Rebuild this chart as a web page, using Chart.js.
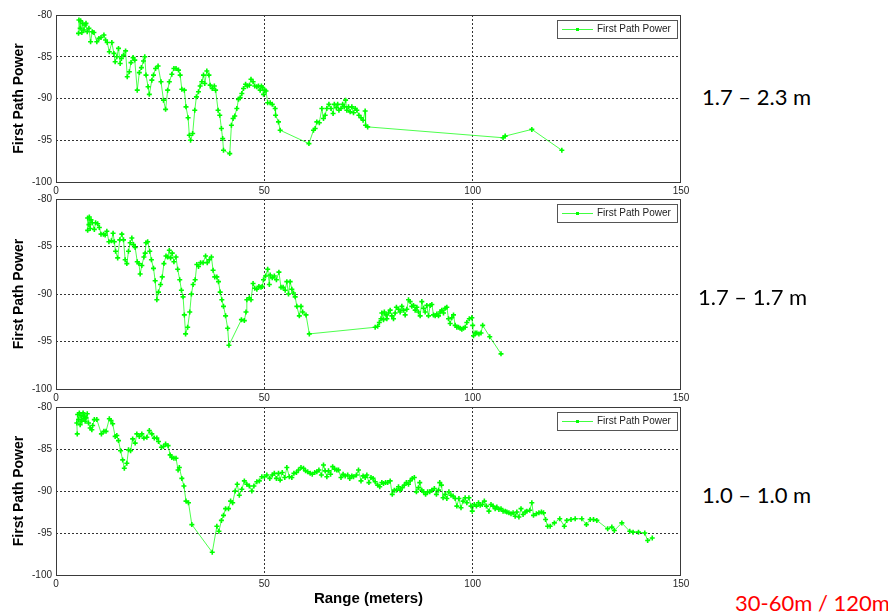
<!DOCTYPE html>
<html>
<head>
<meta charset="utf-8">
<script src="https://cdn.jsdelivr.net/npm/chart.js@4.4.1/dist/chart.umd.min.js"></script>
<style>
  body { margin: 0; background: #fff; width: 888px; height: 613px; overflow: hidden; position: relative; }
  canvas { position: absolute; left: 0; }
  .note { position: absolute; font-family: Lato, "Open Sans", sans-serif; font-size: 22px; color: #000; white-space: nowrap; line-height: 1; }
</style>
</head>
<body>
<canvas id="c1" width="700" height="200" style="top:0px"></canvas>
<canvas id="c2" width="700" height="223" style="top:184px"></canvas>
<canvas id="c3" width="700" height="221" style="top:392px"></canvas>
<div class="note" style="left:702px; top:86px">1.7 – 2.3 m</div>
<div class="note" style="left:698px; top:286px">1.7 – 1.7 m</div>
<div class="note" style="left:702px; top:484px">1.0 – 1.0 m</div>
<div class="note" style="left:735px; top:592px; color:#ff0000">30-60m / 120m</div>
<script>
// axis ticks
var rangeTicks = [0, 50, 100, 150];
var powerTicks = [-100, -95, -90, -85, -80];
var seriesName = 'First Path Power';

// 1.7 - 2.3 m
var range1 = [5.4,5.5,5.8,5.9,6.2,6.4,6.7,7.0,7.2,7.5,7.9,8.3,8.7,9.1,9.8,10.3,10.8,11.5,11.9,12.3,12.8,13.4,13.9,14.2,14.6,15.0,15.4,15.7,16.2,16.7,17.1,17.6,18.0,18.5,18.9,19.5,20.0,20.5,21.0,21.3,21.6,22.1,22.4,23.0,23.4,23.9,24.5,25.2,25.8,26.3,26.8,27.2,27.8,28.3,28.8,29.4,29.8,30.2,30.8,31.2,31.7,32.0,32.3,32.8,33.3,33.7,34.2,34.6,35.0,35.4,35.7,36.2,36.7,37.0,37.5,38.0,38.3,38.9,39.3,39.7,40.0,40.2,41.7,42.1,42.5,42.9,43.4,43.8,44.2,44.6,45.0,45.5,45.9,46.4,46.8,47.3,47.7,48.2,48.6,49.0,49.3,49.6,49.8,50.1,50.4,50.8,51.4,51.9,52.6,52.7,53.4,53.8,60.7,61.8,62.2,62.6,63.2,63.8,64.2,64.6,65.0,65.5,66.0,66.5,66.8,67.3,67.6,67.9,68.4,68.8,69.2,69.5,69.8,70.2,70.6,71.0,71.4,71.8,72.2,72.7,73.2,73.7,74.2,74.3,74.8,107.3,107.8,114.2,121.4];
var power1 = [-82.2,-80.6,-81.6,-80.7,-82.1,-81.0,-81.8,-81.2,-81.0,-82.0,-81.6,-83.2,-82.0,-82.1,-83.2,-82.8,-82.7,-82.4,-83.0,-83.3,-84.4,-83.3,-84.6,-85.6,-85.0,-84.0,-85.8,-85.2,-84.8,-84.3,-87.4,-86.8,-85.7,-85.1,-85.4,-89.0,-86.9,-86.3,-85.5,-85.0,-87.2,-88.6,-89.5,-87.8,-87.2,-86.4,-86.1,-88.0,-90.2,-91.3,-89.0,-88.0,-87.1,-86.4,-86.4,-86.6,-87.2,-88.9,-89.0,-91.0,-92.3,-94.4,-95.0,-94.2,-91.4,-89.8,-89.2,-88.5,-88.0,-87.2,-88.2,-86.7,-87.2,-88.4,-88.8,-88.5,-89.0,-91.4,-92.0,-93.6,-94.8,-96.2,-96.6,-93.2,-92.4,-92.1,-91.2,-90.1,-89.9,-89.4,-88.8,-88.3,-88.5,-88.4,-87.7,-88.0,-88.5,-88.6,-88.5,-89.0,-88.5,-88.7,-89.5,-89.0,-89.1,-90.5,-90.5,-90.7,-91.2,-92.0,-92.8,-93.8,-95.4,-93.8,-93.6,-92.8,-92.9,-91.2,-92.4,-92.0,-91.2,-90.7,-91.2,-91.8,-90.7,-91.1,-90.7,-91.4,-91.2,-90.7,-91.0,-90.2,-91.4,-91.0,-91.6,-91.0,-91.7,-91.2,-91.4,-92.0,-92.3,-92.6,-91.5,-93.2,-93.4,-94.7,-94.5,-93.7,-96.2];

// 1.7 - 1.7 m
var range2 = [7.6,7.6,7.9,8.0,8.2,8.4,8.7,9.2,9.5,10.0,10.4,10.8,11.4,11.8,12.2,12.7,13.3,13.7,14.0,14.3,14.8,15.3,15.8,16.2,16.6,17.0,17.4,17.8,18.2,18.6,19.0,19.5,19.9,20.2,20.6,21.1,21.4,21.6,22.0,22.5,22.9,23.4,23.8,24.2,24.6,25.1,25.5,25.9,26.4,26.8,27.2,27.5,27.9,28.3,28.8,29.2,29.7,30.1,30.5,30.8,31.1,31.6,32.1,32.5,32.9,33.4,33.8,34.2,34.7,35.3,35.9,36.3,36.8,37.3,37.7,38.1,38.6,39.0,39.4,39.8,40.2,40.7,41.2,41.5,44.5,45.2,45.6,45.8,46.4,46.8,47.3,47.7,48.2,48.7,49.2,49.5,49.8,50.3,50.8,51.2,51.4,51.9,52.4,52.9,53.5,54.0,54.5,55.0,55.4,55.8,56.2,56.6,57.0,57.4,57.8,58.4,58.8,59.2,60.0,60.8,76.6,77.2,77.6,78.0,78.2,78.6,78.8,79.2,79.4,79.8,80.2,80.6,81.0,81.4,81.7,82.2,82.6,83.0,83.4,83.8,84.2,84.6,85.0,85.4,85.8,86.2,86.6,87.0,87.4,87.8,88.2,88.6,89.0,89.4,89.8,90.2,90.6,91.0,91.4,91.8,92.2,92.6,93.0,93.4,93.8,94.2,94.6,95.0,95.4,95.8,96.2,96.6,97.0,97.4,97.8,98.2,98.6,99.2,99.8,100.0,100.2,100.6,101.0,101.5,102.0,102.4,104.1,106.8];
var power2 = [-83.3,-82.0,-82.7,-81.9,-83.1,-82.2,-82.5,-83.2,-82.5,-82.6,-83.0,-83.7,-83.7,-83.8,-83.4,-84.5,-84.4,-83.6,-84.5,-85.5,-86.2,-84.3,-83.7,-84.3,-86.4,-86.8,-85.5,-84.6,-84.1,-84.8,-85.1,-86.6,-86.8,-87.9,-87.0,-86.1,-85.7,-84.6,-84.5,-85.5,-86.4,-87.3,-88.6,-90.6,-89.8,-89.0,-88.2,-86.8,-86.0,-86.1,-85.4,-86.2,-85.7,-86.6,-86.1,-87.4,-88.5,-89.6,-90.3,-92.2,-94.2,-93.5,-91.9,-90.0,-89.0,-88.5,-86.9,-87.1,-86.7,-86.7,-86.0,-86.7,-86.4,-86.1,-87.5,-88.2,-88.2,-88.7,-89.8,-90.6,-91.3,-92.3,-93.6,-95.4,-92.7,-92.8,-91.9,-90.6,-90.4,-90.6,-88.9,-89.4,-89.5,-89.2,-89.3,-89.2,-88.5,-88.1,-87.4,-89.0,-88.0,-88.3,-88.1,-88.5,-87.7,-89.3,-89.3,-89.6,-88.7,-90.0,-88.7,-89.5,-89.9,-90.3,-91.3,-92.3,-91.3,-91.9,-92.2,-94.2,-93.5,-93.4,-93.0,-92.6,-92.0,-92.7,-91.9,-92.2,-92.6,-92.0,-91.7,-92.3,-92.6,-92.0,-91.4,-91.6,-91.9,-91.3,-91.7,-92.2,-91.6,-90.6,-90.8,-91.3,-91.2,-91.7,-91.4,-91.9,-92.3,-90.8,-91.5,-91.9,-91.2,-92.3,-91.2,-91.1,-92.2,-92.3,-92.1,-92.3,-91.9,-91.7,-92.0,-91.5,-91.4,-92.6,-93.1,-92.5,-92.2,-93.3,-93.5,-93.5,-93.6,-93.7,-93.6,-93.5,-93.0,-92.6,-92.5,-93.3,-94.4,-94.1,-94.1,-94.2,-94.1,-93.3,-94.5,-96.3];

// 1.0 - 1.0 m
var range3 = [5.1,5.0,5.2,5.4,5.6,5.8,6.0,6.2,6.5,6.7,6.9,7.0,7.2,7.5,7.8,8.2,8.6,8.8,9.2,9.8,10.9,11.5,12.0,12.8,13.2,13.6,14.2,14.6,15.0,15.5,16.0,16.4,17.0,17.4,17.9,18.4,19.0,19.4,20.0,20.6,21.1,21.8,22.4,23.0,23.6,24.2,24.6,25.3,25.8,26.3,26.9,27.4,27.8,28.3,28.8,29.3,29.6,30.2,30.7,31.2,31.8,32.6,37.5,38.6,39.1,39.7,40.2,40.7,41.4,41.9,42.4,43.0,43.5,44.0,44.6,45.2,45.8,46.4,47.0,47.5,48.2,48.8,49.4,50.0,50.6,51.3,51.9,52.4,52.9,53.4,53.8,54.3,54.9,55.4,56.0,56.6,57.1,57.7,58.2,58.8,59.4,59.9,60.4,61.0,61.5,62.1,62.6,63.1,63.7,64.2,64.6,65.0,65.4,65.9,66.4,66.9,67.4,67.8,68.4,68.9,69.4,70.0,70.5,71.0,71.4,72.1,72.6,73.2,73.7,74.2,74.6,75.1,75.6,76.1,76.6,77.2,77.7,78.2,78.6,79.1,79.6,80.2,80.7,81.2,81.7,82.2,82.6,83.1,83.6,84.1,84.6,85.0,85.5,86.0,86.5,87.0,87.3,87.8,88.2,88.7,89.2,89.7,90.2,90.8,91.3,91.8,92.1,92.5,92.9,93.4,93.8,94.3,94.8,95.3,95.8,96.2,96.7,97.2,97.7,98.2,98.6,99.1,99.6,99.9,100.4,100.9,101.4,101.8,102.3,102.8,103.3,103.9,104.4,104.9,105.4,105.8,106.3,106.8,107.3,107.8,108.2,108.7,109.2,109.7,110.2,110.6,111.1,111.6,112.1,112.6,113.0,113.7,114.2,114.6,115.3,115.9,116.5,117.0,117.5,118.0,118.6,119.6,120.9,122.0,122.6,123.6,124.6,126.2,127.3,128.2,129.0,129.8,132.4,133.4,134.0,135.8,137.7,138.5,139.8,141.3,142.0,143.1];
var power3 = [-83.2,-81.9,-80.9,-81.5,-80.7,-82.1,-81.0,-81.7,-80.7,-81.4,-81.1,-81.7,-81.3,-80.8,-81.9,-82.5,-82.7,-82.2,-81.5,-81.5,-83.2,-82.9,-82.9,-81.4,-81.6,-82.0,-83.5,-83.4,-84.0,-85.2,-86.3,-87.3,-86.7,-85.1,-85.2,-83.8,-84.3,-83.2,-83.5,-83.2,-83.7,-83.6,-82.8,-83.2,-83.7,-83.7,-84.1,-84.8,-84.7,-84.4,-84.6,-85.7,-86.0,-86.1,-86.1,-87.5,-87.2,-88.5,-89.4,-91.2,-91.4,-94.0,-97.3,-94.2,-94.8,-93.5,-92.9,-92.1,-92.1,-91.2,-91.4,-90.0,-89.2,-90.5,-89.8,-88.8,-89.2,-89.4,-90.0,-89.4,-88.9,-88.8,-88.3,-88.3,-88.1,-88.5,-88.1,-87.9,-88.5,-87.9,-88.7,-87.8,-88.4,-87.2,-88.3,-88.4,-87.9,-87.8,-87.5,-87.2,-87.3,-87.6,-87.7,-87.9,-88.0,-87.8,-87.7,-87.5,-88.1,-86.9,-87.6,-88.3,-87.6,-88.0,-87.1,-87.4,-87.5,-87.5,-88.4,-88.0,-88.2,-88.1,-88.5,-88.2,-88.3,-88.1,-87.5,-88.8,-88.2,-88.4,-88.1,-89.0,-88.4,-88.5,-88.9,-89.3,-89.5,-89.0,-89.1,-89.0,-89.0,-88.8,-90.4,-89.9,-89.9,-89.5,-89.9,-89.6,-89.3,-89.0,-89.2,-88.8,-88.5,-88.4,-90.1,-89.6,-89.0,-89.9,-90.1,-90.4,-90.1,-90.1,-89.9,-89.7,-90.4,-89.9,-89.0,-89.3,-90.8,-90.4,-90.9,-90.1,-90.5,-90.6,-90.9,-91.8,-90.9,-92.0,-91.2,-90.8,-91.4,-90.8,-91.8,-92.4,-91.6,-91.8,-91.4,-91.7,-91.6,-91.2,-91.8,-92.4,-91.6,-91.8,-92.1,-91.9,-92.2,-92.1,-92.4,-92.4,-92.5,-92.6,-92.7,-92.6,-93.0,-92.5,-93.1,-92.1,-92.8,-92.5,-92.4,-92.3,-91.4,-92.9,-92.7,-92.6,-92.5,-92.6,-93.4,-94.2,-94.2,-93.8,-93.3,-94.2,-93.5,-93.4,-93.3,-93.3,-94.0,-93.4,-93.4,-93.5,-94.5,-94.3,-94.7,-93.8,-94.8,-94.9,-94.9,-95.0,-95.9,-95.6];

var green = '#00ff00';
var tickFont = { family: '"Liberation Sans", Arial, sans-serif', size: 10 };

// axis box + legend (MATLAB style)
var boxPlugin = {
  id: 'boxPlugin',
  afterDraw: function (chart) {
    var ctx = chart.ctx, a = chart.chartArea;
    ctx.save();
    ctx.strokeStyle = '#3a3a3a';
    ctx.lineWidth = 1;
    ctx.strokeRect(Math.round(a.left) + 0.5, Math.round(a.top) + 0.5, Math.round(a.width) - 1, Math.round(a.height));
    var w = 120, h = 18;
    var x = Math.round(a.right) - 4 - w, y = Math.round(a.top) + 5;
    ctx.fillStyle = '#fff';
    ctx.fillRect(x, y, w, h);
    ctx.strokeStyle = '#555';
    ctx.strokeRect(x + 0.5, y + 0.5, w, h);
    var cy = y + h / 2 + 0.5;
    ctx.strokeStyle = 'rgba(0,255,0,0.75)';
    ctx.beginPath();
    ctx.moveTo(x + 5, cy);
    ctx.lineTo(x + 36, cy);
    ctx.stroke();
    ctx.fillStyle = green;
    ctx.fillRect(x + 19, cy - 1.5, 3, 3);
    ctx.fillStyle = '#222';
    ctx.font = '10px "Liberation Sans", Arial, sans-serif';
    ctx.textBaseline = 'middle';
    ctx.fillText(chart.data.datasets[0].label, x + 40, cy);
    ctx.restore();
  }
};

function gridColor(edges) {
  return function (c) {
    var v = c.tick ? c.tick.value : null;
    return (v === edges[0] || v === edges[1]) ? 'rgba(0,0,0,0)' : '#333';
  };
}

function makePanel(id, xs, ys, withTitle) {
  var pts = xs.map(function (x, i) { return { x: x, y: ys[i] }; });
  var canvas = document.getElementById(id);
  return new Chart(canvas.getContext('2d'), {
    type: 'line',
    data: {
      datasets: [{
        label: seriesName,
        data: pts,
        borderColor: 'rgba(0,255,0,0.7)',
        borderWidth: 1,
        pointStyle: 'cross',
        pointRadius: 2.5,
        pointBorderWidth: 1.6,
        pointBorderColor: green,
        pointBackgroundColor: green,
        tension: 0
      }]
    },
    options: {
      responsive: false,
      animation: false,
      devicePixelRatio: 1,
      layout: { padding: { left: 0, top: 15, right: 19, bottom: 0 } },
      plugins: { legend: { display: false }, tooltip: { enabled: false } },
      scales: {
        x: {
          type: 'linear',
          min: rangeTicks[0],
          max: rangeTicks[rangeTicks.length - 1],
          afterBuildTicks: function (s) { s.ticks = rangeTicks.map(function (v) { return { value: v }; }); },
          afterFit: function (s) { s.height = withTitle ? 38 : 18; },
          ticks: { font: tickFont, color: '#262626', padding: 3, maxRotation: 0 },
          grid: { color: gridColor([0, 150]), drawTicks: false, lineWidth: 1 },
          border: { display: false, dash: [2, 2] },
          title: {
            display: withTitle,
            text: 'Range (meters)',
            color: '#000',
            font: { family: '"Liberation Sans", Arial, sans-serif', size: 15, weight: 'bold' },
            padding: { top: 0, bottom: 5 }
          }
        },
        y: {
          min: powerTicks[0],
          max: powerTicks[powerTicks.length - 1],
          afterBuildTicks: function (s) { s.ticks = powerTicks.map(function (v) { return { value: v }; }); },
          afterFit: function (s) { s.width = 56; },
          ticks: { font: tickFont, color: '#262626', padding: 4 },
          grid: { color: gridColor([-100, -80]), drawTicks: false, lineWidth: 1 },
          border: { display: false, dash: [2, 2] },
          title: {
            display: true,
            text: 'First Path Power',
            color: '#000',
            font: { family: '"Liberation Sans", Arial, sans-serif', size: 14, weight: 'bold' },
            padding: { top: 11, bottom: 0 }
          }
        }
      }
    },
    plugins: [boxPlugin]
  });
}

makePanel('c1', range1, power1, false);
makePanel('c2', range2, power2, false);
makePanel('c3', range3, power3, true);
</script>
</body>
</html>
